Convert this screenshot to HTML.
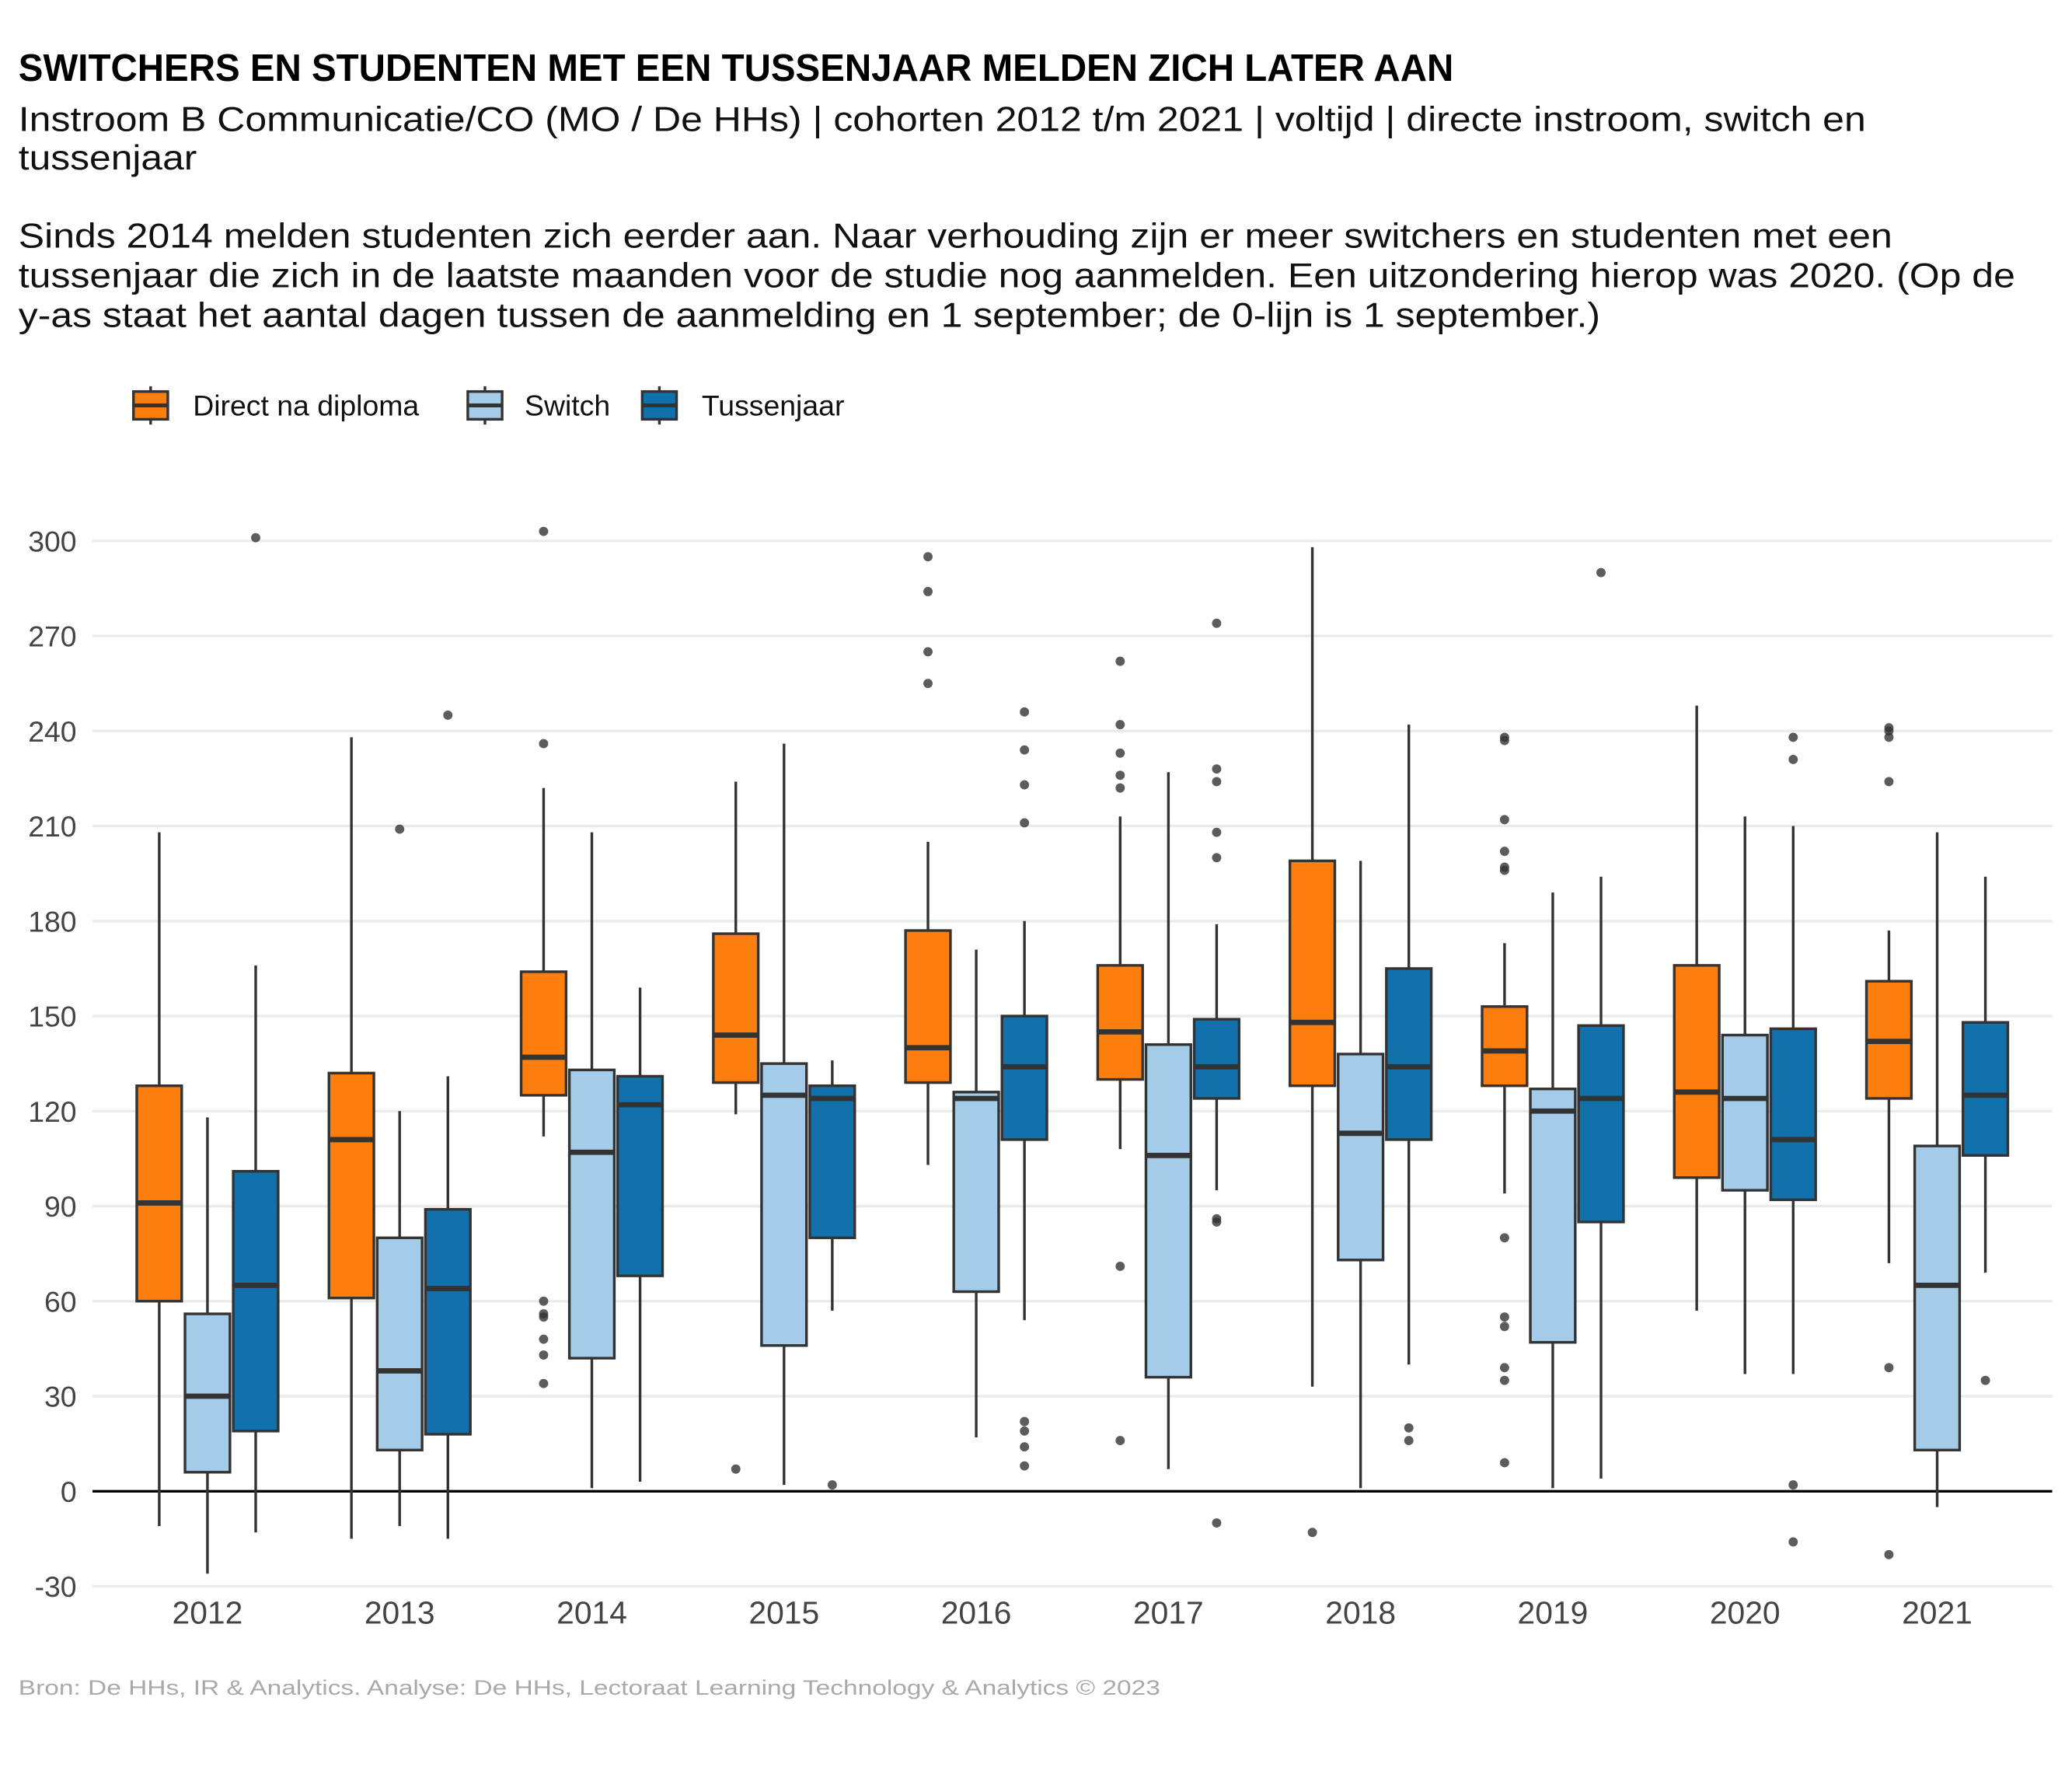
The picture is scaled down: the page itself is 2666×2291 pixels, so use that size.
<!DOCTYPE html>
<html><head><meta charset="utf-8"><style>
html,body{margin:0;padding:0;background:#fff}
svg{display:block}
text{font-family:"Liberation Sans",sans-serif}
</style></head><body>
<svg id="chart" width="2666" height="2291" viewBox="0 0 1568 1347" xmlns="http://www.w3.org/2000/svg">
<text x="14" y="61" font-size="29" font-weight="bold" textLength="1086" lengthAdjust="spacingAndGlyphs" style="font-family:'Liberation Sans Narrow','Liberation Sans',sans-serif">SWITCHERS EN STUDENTEN MET EEN TUSSENJAAR MELDEN ZICH LATER AAN</text>
<g font-size="26" fill="#111">
<text x="14" y="99" textLength="1398" lengthAdjust="spacingAndGlyphs">Instroom B Communicatie/CO (MO / De HHs) | cohorten 2012 t/m 2021 | voltijd | directe instroom, switch en</text>
<text x="14" y="128" textLength="135" lengthAdjust="spacingAndGlyphs">tussenjaar</text>
<text x="14" y="187" textLength="1418" lengthAdjust="spacingAndGlyphs">Sinds 2014 melden studenten zich eerder aan. Naar verhouding zijn er meer switchers en studenten met een</text>
<text x="14" y="217" textLength="1511" lengthAdjust="spacingAndGlyphs">tussenjaar die zich in de laatste maanden voor de studie nog aanmelden. Een uitzondering hierop was 2020. (Op de</text>
<text x="14" y="247" textLength="1197" lengthAdjust="spacingAndGlyphs">y-as staat het aantal dagen tussen de aanmelding en 1 september; de 0-lijn is 1 september.)</text>
</g>
<g id="legend" font-size="22"></g>
<g id="grid"></g>
<g id="boxes"></g>
<g id="xlabels"></g>
<text x="14" y="1282" font-size="16" fill="#a9a9a9" textLength="864" lengthAdjust="spacingAndGlyphs">Bron: De HHs, IR &amp; Analytics. Analyse: De HHs, Lectoraat Learning Technology &amp; Analytics © 2023</text>
</svg>
<script>
const years = ["2012","2013","2014","2015","2016","2017","2018","2019","2020","2021"];
const seriesNames = ["Direct na diploma","Switch","Tussenjaar"];
const yTicks = [-30,0,30,60,90,120,150,180,210,240,270,300];
// [whiskerLow, q1, median, q3, whiskerHigh] per year
const directStats = [[-11,60,91,128,208],[-15,61,111,132,238],[112,125,137,164,222],[119,129,144,176,224],[103,129,140,177,205],[108,130,145,166,213],[33,128,148,199,298],[94,128,139,153,173],[57,99,126,166,248],[72,124,142,161,177]];
const switchStats = [[-26,6,30,56,118],[-11,13,38,80,120],[1,42,107,133,208],[2,46,125,135,236],[17,63,124,126,171],[7,36,106,141,227],[1,73,113,138,199],[1,47,120,127,189],[37,95,124,144,213],[-5,13,65,109,208]];
const tussenStats = [[-13,19,65,101,166],[-15,18,64,89,131],[3,68,122,131,159],[57,80,124,128,136],[54,111,134,150,180],[95,124,134,149,179],[40,111,134,165,242],[4,85,124,147,194],[37,92,111,146,210],[69,106,125,148,194]];
const directOutliers = [[],[],[236,303,60,56,55,48,43,34],[7],[295,284,265,255],[262,242,233,226,222,71,16],[-13],[238,237,212,202,197,196,80,55,52,39,35,9],[],[241,240,238,224,39,-20]];
const switchOutliers = [[],[209],[],[],[],[],[],[],[],[]];
const tussenOutliers = [[301],[245],[],[2],[246,234,223,211,22,19,14,8],[274,228,224,208,200,86,85,-10],[20,16],[290],[238,231,2,-16],[35]];

const colors = ["#fb7e0f","#a4cbe8","#1270ab"];
const NS = "http://www.w3.org/2000/svg";
const y = v => 1128 - v*(719/300);
const x = i => 157 + i*145.44;
const offs = [-36.5,0,36.5];
const bw = 34;
function mk(tag, attrs, parent){const e=document.createElementNS(NS,tag);for(const k in attrs)e.setAttribute(k,attrs[k]);parent.appendChild(e);return e;}

const grid = document.getElementById('grid');
yTicks.forEach(t=>{
  const l = mk('line',{x1:70,x2:1553,y1:y(t),y2:y(t),stroke:t===0?'#000':'#ebebeb','stroke-width':2},grid);
  
  
  const tx = mk('text',{x:58,y:y(t)+8,'text-anchor':'end','font-size':22,fill:'#444'},grid);
  tx.textContent = t;
  
  
});
const xl = document.getElementById('xlabels');
years.forEach((yr,i)=>{
  const t = mk('text',{x:x(i),y:1228,'text-anchor':'middle','font-size':24,fill:'#444'},xl);
  t.textContent = yr;
  
  
});
const boxes = document.getElementById('boxes');
const allStats=[directStats,switchStats,tussenStats];
const allOut=[directOutliers,switchOutliers,tussenOutliers];
allStats.forEach((st,s)=>{
  st.forEach((d,i)=>{
    const cx = x(i)+offs[s];
    const g = mk('g',{},boxes);
    
    
    mk('line',{x1:cx,x2:cx,y1:y(d[0]),y2:y(d[1]),stroke:'#333','stroke-width':2},g);
    mk('line',{x1:cx,x2:cx,y1:y(d[3]),y2:y(d[4]),stroke:'#333','stroke-width':2},g);
    mk('rect',{x:cx-bw/2,y:y(d[3]),width:bw,height:y(d[1])-y(d[3]),fill:colors[s],stroke:'#333','stroke-width':2},g);
    mk('line',{x1:cx-bw/2,x2:cx+bw/2,y1:y(d[2]),y2:y(d[2]),stroke:'#333','stroke-width':4},g);
    allOut[s][i].forEach(o=>{
      const c = mk('circle',{cx:cx,cy:y(o),r:3.5,fill:'#333','fill-opacity':0.8},g);
      
      
    });
  });
});
const lg = document.getElementById('legend');
const lx=[101,354,486], tx=[146,397,531];
seriesNames.forEach((n,s)=>{
  const g = mk('g',{},lg);
  
  
  mk('line',{x1:lx[s]+13,x2:lx[s]+13,y1:292,y2:321,stroke:'#333','stroke-width':2},g);
  mk('rect',{x:lx[s],y:296,width:26,height:21,fill:colors[s],stroke:'#333','stroke-width':2},g);
  mk('line',{x1:lx[s],x2:lx[s]+26,y1:306.5,y2:306.5,stroke:'#333','stroke-width':3},g);
  const t = mk('text',{x:tx[s],y:314,'font-size':22,fill:'#111'},g);
  t.textContent = n;
});
</script>
</body></html>
